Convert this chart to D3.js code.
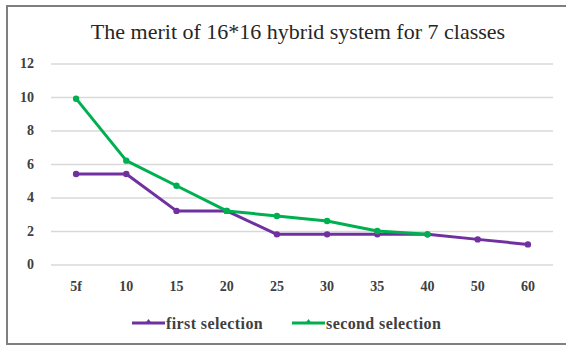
<!DOCTYPE html>
<html>
<head>
<meta charset="utf-8">
<script src="https://cdn.jsdelivr.net/npm/d3@7"></script>
<style>
	body { margin: 0; background: #fff; }
	svg { display: block; }
	.tick text { font-family: "Liberation Serif", "Times New Roman", Times, "DejaVu Serif", serif; font-size: 14px; font-weight: bold; fill: #404040; }
	.serif { font-family: "Liberation Serif", "Times New Roman", Times, "DejaVu Serif", serif; }
</style>
</head>
<body>
<div id="chart"></div>
<script>

// chart data
const categories = ['5f', '10', '15', '20', '25', '30', '35', '40', '50', '60'];
const firstSelection = [5.4, 5.4, 3.2, 3.2, 1.8, 1.8, 1.8, 1.8, 1.5, 1.2];
const secondSelection = [9.9, 6.2, 4.7, 3.2, 2.9, 2.6, 2.0, 1.8];
const yTicks = [0, 2, 4, 6, 8, 10, 12];
const seriesNames = ['first selection', 'second selection'];
const seriesColors = ['#7030a0', '#00b050'];

const w = 566;
const h = 347;

const svg = d3.select('#chart').append('svg')
	.attr('width', w)
	.attr('height', h);

// outer frame (right edge is cut off in the original)
svg.append('rect')
	.attr('x', 7).attr('y', 6)
	.attr('width', 570).attr('height', 338)
	.attr('fill', 'none')
	.attr('stroke', '#7f7f7f')
	.attr('stroke-width', 2);

svg.append('text')
	.attr('class', 'serif')
	.attr('x', 298)
	.attr('y', 39)
	.attr('text-anchor', 'middle')
	.style('font-size', '22px')
	.style('fill', '#262626')
	.text('The merit of 16*16 hybrid system for 7 classes');

const x = d3.scaleBand().domain(categories).range([51, 553]);
const y = d3.scaleLinear().domain([0, 12]).range([264.5, 63.5]);
const cx = d => x(d) + x.bandwidth() / 2;

// y axis + gridlines
const yAxis = svg.append('g')
	.attr('transform', 'translate(51,0)')
	.call(d3.axisLeft(y).tickValues(yTicks).tickSize(-(553 - 51)).tickPadding(17));
yAxis.select('.domain').remove();
yAxis.selectAll('.tick line').attr('stroke', '#d9d9d9').attr('stroke-width', 1.5);

// x axis labels only
const xAxis = svg.append('g')
	.attr('transform', 'translate(0,264.5)')
	.call(d3.axisBottom(x).tickSize(0).tickPadding(17));
xAxis.select('.domain').remove();

const series = [firstSelection, secondSelection];
const line = d3.line()
	.x((d, i) => cx(categories[i]))
	.y(d => y(d));

series.forEach((vals, s) => {
	svg.append('path')
		.datum(vals)
		.attr('d', line)
		.attr('fill', 'none')
		.attr('stroke', seriesColors[s])
		.attr('stroke-width', 3)
		.attr('stroke-linejoin', 'round');
	svg.selectAll('.pt' + s)
		.data(vals)
		.enter().append('circle')
		.attr('class', 'pt' + s)
		.attr('cx', (d, i) => cx(categories[i]))
		.attr('cy', d => y(d))
		.attr('r', 3.2)
		.attr('fill', seriesColors[s]);
});

// legend
const legendX = [132, 292];
const legend = svg.selectAll('.legend')
	.data(seriesNames)
	.enter().append('g')
	.attr('class', 'legend')
	.attr('transform', (d, i) => `translate(${legendX[i]},323)`);
legend.append('line')
	.attr('x1', 0).attr('x2', 33)
	.attr('stroke', (d, i) => seriesColors[i])
	.attr('stroke-width', 3);
legend.append('path')
	.attr('d', 'M13.5,0 L16.5,-4 L19.5,0 Z')
	.attr('fill', (d, i) => seriesColors[i]);
legend.append('text')
	.attr('class', 'serif')
	.attr('x', 34)
	.attr('dy', '0.35em')
	.style('font-size', '16px')
	.style('letter-spacing', '0.4px')
	.style('font-weight', 'bold')
	.style('fill', '#404040')
	.text(d => d);

</script>
</body>
</html>
